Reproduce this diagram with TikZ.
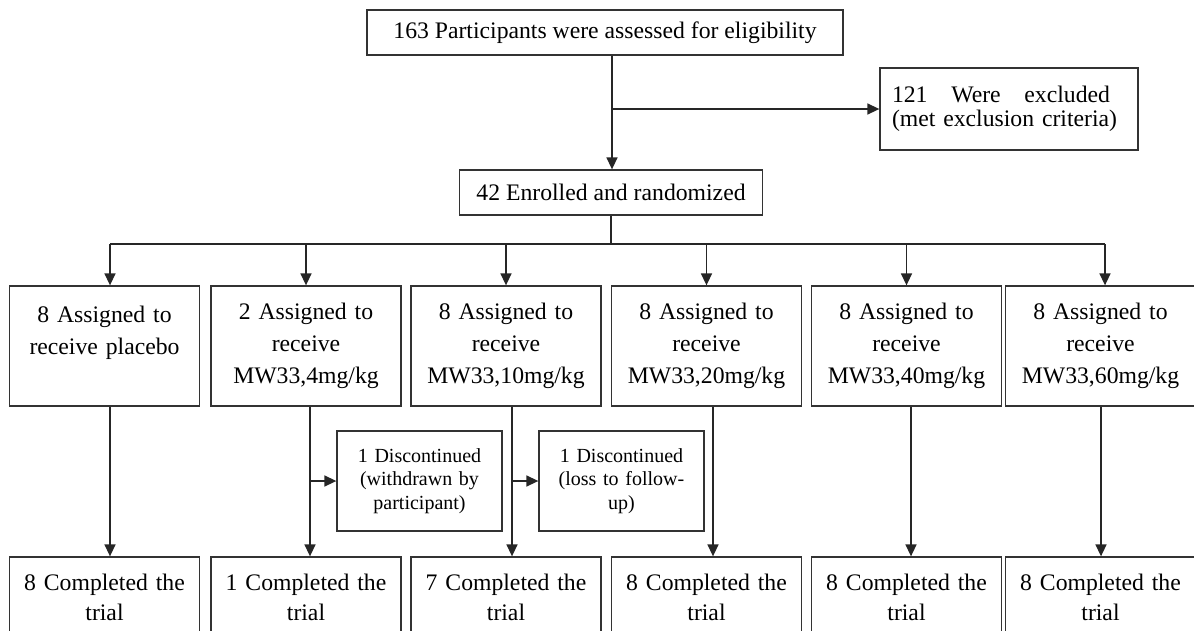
\documentclass[tikz,border=0pt]{standalone}
\usepackage{fontspec}
\setmainfont{Liberation Serif}
\usetikzlibrary{arrows.meta}

\begin{document}
\begin{tikzpicture}[x=1pt,y=-1pt,>={Triangle[length=12pt,width=11pt]},
  line width=1.5pt,draw=black!85,
  box/.style={draw=black!80,line width=1.3pt,align=center,inner sep=0pt,
    font=\fontsize{23.7}{32}\selectfont},
  arm/.style={box,text width=180pt,minimum width=190pt,minimum height=120pt},
  done/.style={box,text width=180pt,minimum width=190pt,minimum height=80pt,
    font=\fontsize{23.7}{30}\selectfont},
  drop/.style={box,text width=155pt,minimum width=165pt,minimum height=100pt,
    font=\fontsize{20}{23.5}\selectfont}]
  \useasboundingbox (0,0) rectangle (1194,630);
  \clip (0,0) rectangle (1194,630);

  \node[box,minimum width=476pt,minimum height=45pt] (screen) at (605,32.5)
    {163 Participants were assessed for eligibility};
  \node[box,align=left,text width=234pt,inner xsep=12pt,minimum height=82pt,
    font=\fontsize{23.7}{23.5}\selectfont] (excl) at (1009,109)
    {\hbox to 218pt{121\hfill Were\hfill excluded}\\(met exclusion criteria)};
  \node[box,minimum width=303pt,minimum height=45pt] (enrol) at (611,192.5)
    {42 Enrolled and randomized};

  \node[arm] (arm1) at (104.5,346) {8 Assigned to\\receive placebo\\\mbox{}};
  \node[arm] (arm2) at (306,346) {2 Assigned to\\receive\\MW33,4mg/kg};
  \node[arm] (arm3) at (506,346) {8 Assigned to\\receive\\MW33,10mg/kg};
  \node[arm] (arm4) at (706.5,346) {8 Assigned to\\receive\\MW33,20mg/kg};
  \node[arm] (arm5) at (906.5,346) {8 Assigned to\\receive\\MW33,40mg/kg};
  \node[arm] (arm6) at (1100.5,346) {8 Assigned to\\receive\\MW33,60mg/kg};

  \node[drop] (quit1) at (419.5,481) {1 Discontinued\\(withdrawn by\\participant)};
  \node[drop] (quit2) at (621.5,481) {1 Discontinued\\(loss to follow-\\up)};

  \foreach \i/\x/\k in {1/104.5/8,2/306/1,3/506/7,4/706.5/8,5/906.5/8,6/1100.5/8}
    \node[done] (end\i) at (\x,597) {\k{} Completed the\\trial};

  % screening and exclusion
  \coordinate (fork) at (612,109);
  \draw[->] (screen.south -| fork) -- (enrol.north -| fork);
  \draw[->] (fork) -- (excl.west);

  % randomisation to the six arms
  \coordinate (busl) at (110,244);
  \coordinate (busr) at (1105,244);
  \draw (enrol.south) -- (enrol.south |- busl);
  \draw (busl) -- (busr);
  \draw[->] (busl) -- (busl |- arm1.north);
  \foreach \i in {2,...,5}
    \draw[->] (arm\i.north |- busl) -- (arm\i.north);
  \draw[->] (busr) -- (busr |- arm6.north);

  % follow-up
  \foreach \i/\dx in {1/5.5,2/4,3/6,4/6.5,5/4.5,6/0.5} {
    \coordinate (top\i) at ([xshift=\dx]arm\i.south);
    \draw[->] (top\i) -- (top\i |- end\i.north);
  }
  \draw[->] (top2 |- quit1.west) -- (quit1.west);
  \draw[->] (top3 |- quit2.west) -- (quit2.west);
\end{tikzpicture}
\end{document}
